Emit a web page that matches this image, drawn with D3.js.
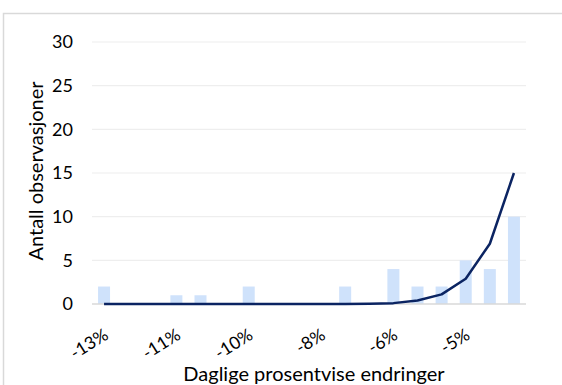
<!DOCTYPE html>
<html>
<head>
<meta charset="utf-8">
<script src="https://cdn.jsdelivr.net/npm/d3@7"></script>
<style>
  html, body { margin: 0; padding: 0; background: #ffffff; }
  svg { display: block; font-family: Lato, "Open Sans", sans-serif; }
</style>
</head>
<body>
<svg id="chart" width="562" height="385"></svg>
<script>
// Histogram bins (index along the x axis) and their tick labels
const bins = d3.range(18);
const binLabels = ["-13%", "", "", "-11%", "", "", "-10%", "", "", "-8%", "", "", "-6%", "", "", "-5%", "", ""];

// Observed number of days in each bin
const observed = [2, 0, 0, 1, 1, 0, 2, 0, 0, 0, 2, 0, 4, 2, 2, 5, 4, 10];

// Expected number of days under a normal distribution
const expected = [0, 0, 0, 0, 0, 0, 0, 0, 0, 0, 0.01, 0.03, 0.1, 0.4, 1.1, 2.9, 6.9, 15.0];

const yTicks = [0, 5, 10, 15, 20, 25, 30];

const svg = d3.select("#chart");

// Outer chart frame
svg.append("rect")
  .attr("x", 3.5).attr("y", 13.5)
  .attr("width", 600).attr("height", 420)
  .attr("fill", "#ffffff")
  .attr("stroke", "#d9d9d9")
  .attr("stroke-width", 1.5);

const xc = d3.scalePoint().domain(bins).range([92, 526]).padding(0.5);
const y = d3.scaleLinear().domain([0, 30]).range([304, 42]);

// Horizontal gridlines
svg.append("g")
  .selectAll("line")
  .data(yTicks.filter(t => t > 0))
  .join("line")
  .attr("x1", 92).attr("x2", 526)
  .attr("y1", d => y(d)).attr("y2", d => y(d))
  .attr("stroke", "#eeeeee")
  .attr("stroke-width", 1.2);

// Y axis labels
const yAxis = d3.axisLeft(y).tickValues(yTicks).tickSize(0).tickPadding(0);
svg.append("g")
  .attr("transform", "translate(73,0)")
  .call(yAxis)
  .call(g => g.select(".domain").remove())
  .call(g => g.selectAll("text")
    .attr("font-size", 18)
    .attr("font-family", "Lato, sans-serif")
    .attr("fill", "#000000"));

// Bars
const barW = 12;
svg.append("g")
  .selectAll("rect")
  .data(bins.filter(i => observed[i] > 0))
  .join("rect")
  .attr("x", i => xc(i) - barW / 2)
  .attr("width", barW)
  .attr("y", i => y(observed[i]))
  .attr("height", i => y(0) - y(observed[i]))
  .attr("fill", "#cfe2fb");

// Baseline
svg.append("line")
  .attr("x1", 92).attr("x2", 526)
  .attr("y1", y(0)).attr("y2", y(0))
  .attr("stroke", "#d9d9d9")
  .attr("stroke-width", 1.5);

// Expected-frequency line
const line = d3.line()
  .x(i => xc(i))
  .y(i => y(expected[i]));
svg.append("path")
  .datum(bins)
  .attr("d", line)
  .attr("fill", "none")
  .attr("stroke", "#0b2462")
  .attr("stroke-width", 2.5)
  .attr("stroke-linejoin", "round");

// X axis labels, rotated
const xAxis = d3.axisBottom(xc).tickFormat(i => binLabels[i]).tickSize(0).tickPadding(0);
svg.append("g")
  .attr("transform", `translate(0,${y(0)})`)
  .call(xAxis)
  .call(g => g.select(".domain").remove())
  .call(g => g.selectAll("text")
    .attr("font-size", 17.5)
    .attr("font-family", "Lato, sans-serif")
    .attr("fill", "#000000")
    .attr("text-anchor", "end")
    .attr("dy", 0)
    .attr("transform", "translate(5,34) rotate(-32)"));

// Axis titles
svg.append("text")
  .attr("x", 314).attr("y", 381)
  .attr("text-anchor", "middle")
  .attr("font-size", 20)
  .attr("fill", "#000000")
  .text("Daglige prosentvise endringer");

svg.append("text")
  .attr("transform", "translate(43,171) rotate(-90)")
  .attr("text-anchor", "middle")
  .attr("font-size", 20)
  .attr("fill", "#000000")
  .text("Antall observasjoner");
</script>
</body>
</html>
